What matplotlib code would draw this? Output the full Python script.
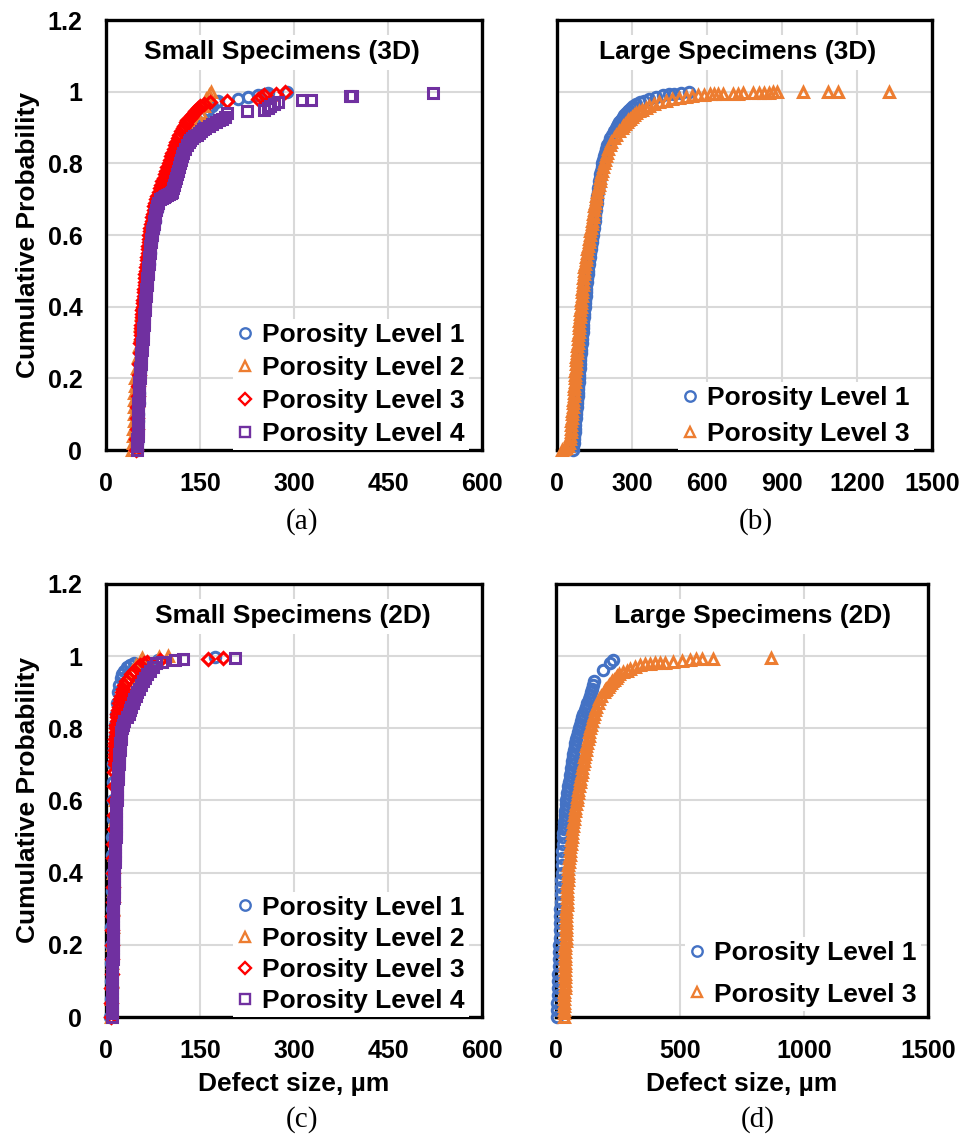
import matplotlib
matplotlib.use('Agg')
import matplotlib.pyplot as plt

# ---------------------------------------------------------------
# Values: defect size (um) vs cumulative probability
# ---------------------------------------------------------------

# (a) Small specimens (3D)
a_lvl1_x = [49, 49, 50, 50, 51, 51, 52, 52, 53, 54,
            55, 56, 57, 58, 59, 60, 62, 64, 66, 68,
            70, 72, 75, 78, 81, 85, 92, 99, 105, 112,
            120, 127, 134, 142, 150, 156, 163, 170, 176, 179,
            211, 227, 243, 254, 259, 289]
a_lvl1_y = [0.00, 0.02, 0.04, 0.06, 0.08, 0.10, 0.13, 0.16, 0.19, 0.22,
            0.25, 0.28, 0.31, 0.34, 0.37, 0.40, 0.43, 0.46, 0.49, 0.52,
            0.55, 0.58, 0.61, 0.64, 0.67, 0.70, 0.73, 0.76, 0.79, 0.82,
            0.85, 0.87, 0.89, 0.91, 0.93, 0.94, 0.95, 0.96, 0.97, 0.975,
            0.98, 0.985, 0.99, 0.993, 0.996, 1.0]

a_lvl2_x = [42, 42.5, 43, 43.5, 44, 44, 44.5, 45, 45.5, 46,
            47, 49, 51, 53, 54, 55, 56, 58, 60, 62,
            63, 65, 67, 69, 71, 73, 77, 82, 88, 95,
            103, 115, 128, 134, 142, 148, 152, 156, 160, 165, 168]
a_lvl2_y = [0.00, 0.02, 0.04, 0.06, 0.08, 0.10, 0.12, 0.14, 0.16, 0.18,
            0.20, 0.23, 0.26, 0.29, 0.32, 0.35, 0.38, 0.41, 0.44, 0.47,
            0.50, 0.53, 0.56, 0.59, 0.62, 0.65, 0.68, 0.71, 0.74, 0.77,
            0.80, 0.83, 0.86, 0.88, 0.90, 0.92, 0.94, 0.96, 0.98, 0.99, 1.0]

a_lvl3_x = [48, 48, 49, 49, 50, 51, 51, 52, 53, 54,
            55, 55.3, 55.6, 56, 56.3, 56.6, 57, 57.3, 57.6, 58,
            58.5, 59, 59.5, 60, 60.5, 61, 61.5, 62, 62.5, 63,
            64, 64.5, 65, 65.5, 66, 66.5, 67, 67.5, 68, 68.5,
            69, 70, 71, 72, 73, 74, 75, 76, 77, 78.5,
            80, 82, 84, 86, 88, 90, 92, 94, 96, 98,
            100, 102, 104, 106, 108, 110, 112, 114.5, 117, 120,
            123, 125, 127, 128.5, 130, 132.5, 135, 137.5, 140, 142.5,
            145, 147.5, 150, 156, 166, 193, 243, 248, 252, 272,
            286]
a_lvl3_y = [0.00, 0.03, 0.06, 0.09, 0.12, 0.15, 0.18, 0.21, 0.24, 0.27,
            0.30, 0.31, 0.32, 0.33, 0.34, 0.35, 0.36, 0.37, 0.38, 0.39,
            0.40, 0.41, 0.42, 0.43, 0.44, 0.45, 0.46, 0.47, 0.48, 0.49,
            0.50, 0.51, 0.52, 0.53, 0.54, 0.55, 0.56, 0.57, 0.58, 0.59,
            0.60, 0.61, 0.62, 0.63, 0.64, 0.65, 0.66, 0.67, 0.68, 0.69,
            0.70, 0.71, 0.72, 0.73, 0.74, 0.75, 0.76, 0.77, 0.78, 0.79,
            0.80, 0.81, 0.82, 0.83, 0.84, 0.85, 0.86, 0.87, 0.88, 0.89,
            0.90, 0.905, 0.91, 0.915, 0.92, 0.925, 0.93, 0.935, 0.94, 0.945,
            0.95, 0.955, 0.96, 0.965, 0.97, 0.975, 0.98, 0.985, 0.99, 0.995,
            1.0]

a_lvl4_x = [50, 50, 50, 50, 50.5, 50.5, 50.5, 50.5, 51, 51,
            51, 51, 51.5, 51.5, 52, 52, 52.5, 53, 53, 53.5,
            54, 54, 54.5, 55, 55.5, 56, 56, 56.5, 57, 57.5,
            58, 58.5, 59, 59, 59.5, 60, 60.5, 61, 61, 61.5,
            62, 62.5, 63, 63.5, 64, 64.5, 65, 65.5, 66, 66.5,
            67, 67.5, 68, 68.5, 69, 69.5, 70, 71, 71.5, 72,
            73, 74, 75, 76, 77, 78, 79, 80, 81.5, 83.5,
            86, 89, 92, 95, 98, 101, 104, 106, 107, 108,
            109.5, 111, 113, 115, 116.5, 118, 119.5, 121, 123.5, 126,
            129, 132, 134.5, 137, 141, 145, 148.5, 152, 155, 158,
            164, 170, 175, 180, 185, 190, 193, 225, 252, 258,
            262, 268, 275, 313, 328, 390, 392, 522]
a_lvl4_y = [0.00, 0.01, 0.02, 0.03, 0.04, 0.05, 0.06, 0.07, 0.08, 0.09,
            0.10, 0.11, 0.12, 0.13, 0.14, 0.15, 0.16, 0.17, 0.18, 0.19,
            0.20, 0.21, 0.22, 0.23, 0.24, 0.25, 0.26, 0.27, 0.28, 0.29,
            0.30, 0.31, 0.32, 0.33, 0.34, 0.35, 0.36, 0.37, 0.38, 0.39,
            0.40, 0.41, 0.42, 0.43, 0.44, 0.45, 0.46, 0.47, 0.48, 0.49,
            0.50, 0.51, 0.52, 0.53, 0.54, 0.55, 0.56, 0.57, 0.58, 0.59,
            0.60, 0.61, 0.62, 0.63, 0.64, 0.65, 0.66, 0.67, 0.68, 0.69,
            0.70, 0.703, 0.706, 0.709, 0.712, 0.715, 0.718, 0.72, 0.73, 0.74,
            0.75, 0.76, 0.77, 0.78, 0.79, 0.80, 0.81, 0.82, 0.83, 0.84,
            0.85, 0.86, 0.865, 0.87, 0.875, 0.88, 0.885, 0.89, 0.895, 0.90,
            0.905, 0.91, 0.915, 0.92, 0.925, 0.93, 0.94, 0.945, 0.95, 0.955,
            0.96, 0.965, 0.97, 0.977, 0.978, 0.988, 0.989, 0.996]

# (b) Large specimens (3D)
b_lvl1_x = [64, 66, 68, 69, 70, 71, 72, 73, 74, 75,
            76, 77.5, 79, 80, 81, 82.5, 84, 85, 86, 87,
            88, 89, 90, 91, 92, 93, 94, 95.5, 97, 98,
            99, 100, 101, 102.5, 104, 105, 106, 107.5, 109, 110,
            111, 112, 113, 114.5, 116, 117, 118, 119.5, 121, 122.5,
            124, 126, 128, 130, 132, 134, 136, 138, 140, 142,
            144, 146, 148, 149.5, 151, 152.5, 154, 155.5, 157, 158.5,
            160, 161.5, 163, 165, 167, 169.5, 172, 174, 176, 179,
            182, 185.5, 189, 193, 197, 202, 207, 213, 220, 228,
            236, 240, 245, 250, 255, 260, 265, 270, 276, 283,
            290, 298, 306, 318, 332, 348, 368, 395, 425, 450,
            470, 495, 530]
b_lvl1_y = [0.00, 0.01, 0.02, 0.03, 0.04, 0.05, 0.06, 0.07, 0.08, 0.09,
            0.10, 0.11, 0.12, 0.13, 0.14, 0.15, 0.16, 0.17, 0.18, 0.19,
            0.20, 0.21, 0.22, 0.23, 0.24, 0.25, 0.26, 0.27, 0.28, 0.29,
            0.30, 0.31, 0.32, 0.33, 0.34, 0.35, 0.36, 0.37, 0.38, 0.39,
            0.40, 0.41, 0.42, 0.43, 0.44, 0.45, 0.46, 0.47, 0.48, 0.49,
            0.50, 0.51, 0.52, 0.53, 0.54, 0.55, 0.56, 0.57, 0.58, 0.59,
            0.60, 0.61, 0.62, 0.63, 0.64, 0.65, 0.66, 0.67, 0.68, 0.69,
            0.70, 0.71, 0.72, 0.73, 0.74, 0.75, 0.76, 0.77, 0.78, 0.79,
            0.80, 0.81, 0.82, 0.83, 0.84, 0.85, 0.86, 0.87, 0.88, 0.89,
            0.90, 0.905, 0.91, 0.915, 0.92, 0.925, 0.93, 0.935, 0.94, 0.945,
            0.95, 0.955, 0.96, 0.965, 0.97, 0.975, 0.98, 0.985, 0.99, 0.993,
            0.995, 0.997, 1.0]

b_lvl3_x = [22, 30, 38, 45, 50, 51.5, 53, 54.5, 56, 57, 58, 59,
            60, 61.5, 63, 64, 65, 66.5, 68, 69, 70, 71,
            72, 73, 74, 75, 76, 77, 78, 79.5, 81, 82,
            83, 84, 85, 86.5, 88, 89, 90, 91.5, 93, 94,
            95, 96.5, 98, 99, 100, 101.5, 103, 104, 105, 106.5,
            108, 110, 112, 114.5, 117, 119.5, 122, 124.5, 127, 129.5,
            132, 134, 136, 138.5, 141, 143, 145, 147.5, 150, 152.5,
            155, 158, 161, 164, 167, 170.5, 174, 177.5, 181, 184.5,
            188, 192, 196, 201, 206, 212, 218, 228, 238, 249,
            260, 266, 272, 279, 286, 293, 300, 309, 318, 329,
            340, 355, 370, 390, 410, 435, 460, 490, 515, 540,
            565, 590, 612, 630, 645, 664, 705, 725, 745, 785,
            810, 830, 850, 865, 880, 985, 1085, 1125, 1330]
b_lvl3_y = [0.000, 0.003, 0.006, 0.01, 0.02, 0.03, 0.04, 0.05, 0.06, 0.07, 0.08, 0.09,
            0.10, 0.11, 0.12, 0.13, 0.14, 0.15, 0.16, 0.17, 0.18, 0.19,
            0.20, 0.21, 0.22, 0.23, 0.24, 0.25, 0.26, 0.27, 0.28, 0.29,
            0.30, 0.31, 0.32, 0.33, 0.34, 0.35, 0.36, 0.37, 0.38, 0.39,
            0.40, 0.41, 0.42, 0.43, 0.44, 0.45, 0.46, 0.47, 0.48, 0.49,
            0.50, 0.51, 0.52, 0.53, 0.54, 0.55, 0.56, 0.57, 0.58, 0.59,
            0.60, 0.61, 0.62, 0.63, 0.64, 0.65, 0.66, 0.67, 0.68, 0.69,
            0.70, 0.71, 0.72, 0.73, 0.74, 0.75, 0.76, 0.77, 0.78, 0.79,
            0.80, 0.81, 0.82, 0.83, 0.84, 0.85, 0.86, 0.87, 0.88, 0.89,
            0.90, 0.905, 0.91, 0.915, 0.92, 0.925, 0.93, 0.935, 0.94, 0.945,
            0.95, 0.955, 0.96, 0.965, 0.97, 0.975, 0.98, 0.983, 0.986, 0.989,
            0.991, 0.992, 0.993, 0.993, 0.994, 0.994, 0.995, 0.995, 0.996, 0.996,
            0.997, 0.997, 0.997, 0.998, 0.998, 0.999, 0.999, 0.999, 1.0]

# (c) Small specimens (2D)
c_lvl1_x = [7, 7.3, 7.6, 8, 8.3, 8.6, 9, 9.3, 9.6, 10,
            10.3, 10.6, 11, 11.5, 12, 13, 14, 15, 16, 17,
            19, 21, 24, 26, 29, 34, 38, 45, 83, 174]
c_lvl1_y = [0.00, 0.05, 0.10, 0.15, 0.20, 0.25, 0.30, 0.35, 0.40, 0.45,
            0.50, 0.55, 0.60, 0.65, 0.70, 0.74, 0.78, 0.81, 0.84, 0.87,
            0.90, 0.92, 0.94, 0.95, 0.96, 0.97, 0.975, 0.98, 0.99, 0.998]

c_lvl2_x = [8, 8.5, 9, 9.5, 10, 10.5, 11, 11.5, 12, 12.5,
            13, 14, 15, 16, 17, 18.5, 20, 23, 26, 30,
            36, 42, 48, 55, 57, 85, 99]
c_lvl2_y = [0.00, 0.05, 0.10, 0.15, 0.20, 0.25, 0.30, 0.35, 0.40, 0.45,
            0.50, 0.55, 0.60, 0.65, 0.70, 0.75, 0.80, 0.84, 0.88, 0.91,
            0.94, 0.96, 0.975, 0.985, 0.995, 0.997, 1.0]

c_lvl3_x = [8, 8.3, 8.6, 9, 9.3, 9.6, 10, 10.3, 10.6,
            11, 11.3, 11.6, 12, 12.3, 12.6, 13, 13.3, 13.6,
            13.8, 14, 14.2, 14.4, 14.6, 14.8, 15, 15.2, 15.4, 15.7,
            16, 16.5, 17, 17.5, 18, 19, 20, 21, 22, 23.5,
            25, 27, 29.5, 32, 36, 40, 45, 51, 55, 60,
            65, 86, 163, 186]
c_lvl3_y = [0.00, 0.04, 0.08, 0.12, 0.16, 0.20, 0.24, 0.28, 0.32,
            0.36, 0.40, 0.44, 0.48, 0.52, 0.56, 0.60, 0.64, 0.68,
            0.70, 0.71, 0.72, 0.73, 0.74, 0.75, 0.76, 0.77, 0.78, 0.79,
            0.80, 0.81, 0.82, 0.83, 0.84, 0.85, 0.86, 0.87, 0.88, 0.89,
            0.90, 0.91, 0.92, 0.93, 0.94, 0.95, 0.96, 0.97, 0.975, 0.98,
            0.985, 0.99, 0.993, 0.996]

c_lvl4_x = [9, 9.1, 9.2, 9.3, 9.5, 9.6, 9.7, 9.8, 10, 10,
            10, 10.1, 10.2, 10.3, 10.4, 10.4, 10.5, 10.5, 10.6, 10.7,
            10.8, 10.9, 11, 11.1, 11.2, 11.3, 11.4, 11.5, 11.6, 11.7,
            11.8, 11.9, 12, 12.2, 12.3, 12.5, 12.6, 12.7, 12.8, 12.9,
            13, 13.3, 13.5, 13.8, 14, 14.3, 14.5, 14.8, 15, 15.1,
            15.3, 15.5, 15.6, 15.8, 16, 16.2, 16.3, 16.5, 16.7, 16.8,
            17, 17.3, 17.5, 17.8, 18, 18.3, 18.5, 18.8, 19, 19.5,
            20, 20.5, 21, 21.5, 22, 22.5, 23, 23.5, 24, 24.5,
            25, 26.5, 28, 33, 36, 38, 40, 42.5, 45, 47.5,
            50, 53, 56, 59, 62, 66, 70, 75, 80, 89,
            110, 123, 206]
c_lvl4_y = [0.00, 0.01, 0.02, 0.03, 0.04, 0.05, 0.06, 0.07, 0.08, 0.09,
            0.10, 0.11, 0.12, 0.13, 0.14, 0.15, 0.16, 0.17, 0.18, 0.19,
            0.20, 0.21, 0.22, 0.23, 0.24, 0.25, 0.26, 0.27, 0.28, 0.29,
            0.30, 0.31, 0.32, 0.33, 0.34, 0.35, 0.36, 0.37, 0.38, 0.39,
            0.40, 0.41, 0.42, 0.43, 0.44, 0.45, 0.46, 0.47, 0.48, 0.49,
            0.50, 0.51, 0.52, 0.53, 0.54, 0.55, 0.56, 0.57, 0.58, 0.59,
            0.60, 0.61, 0.62, 0.63, 0.64, 0.65, 0.66, 0.67, 0.68, 0.69,
            0.70, 0.71, 0.72, 0.73, 0.74, 0.75, 0.76, 0.77, 0.78, 0.79,
            0.80, 0.81, 0.82, 0.83, 0.84, 0.85, 0.86, 0.87, 0.88, 0.89,
            0.90, 0.91, 0.92, 0.93, 0.94, 0.95, 0.96, 0.97, 0.98, 0.983,
            0.989, 0.991, 0.996]

# (d) Large specimens (2D)
d_lvl1_x = [4, 5, 5, 6, 7, 8, 9, 10, 11, 12,
            13, 14, 15, 16, 17, 18, 19, 20, 21, 22,
            23, 24, 25, 26, 27, 29, 30, 31, 32, 34,
            35, 36, 38, 39, 41, 42, 44, 46, 48, 50,
            52, 55, 57, 59, 62, 64, 66, 68, 70, 73,
            76, 78, 81, 84, 88, 91, 95, 100, 104, 109,
            115, 120, 126, 132, 137, 140, 145, 150, 155,
            189, 218, 231]
d_lvl1_y = [0.00, 0.02, 0.04, 0.06, 0.08, 0.10, 0.12, 0.14, 0.16, 0.18,
            0.20, 0.22, 0.24, 0.26, 0.28, 0.30, 0.32, 0.34, 0.36, 0.38,
            0.40, 0.42, 0.44, 0.46, 0.48, 0.50, 0.51, 0.52, 0.53, 0.54,
            0.55, 0.56, 0.57, 0.58, 0.59, 0.60, 0.61, 0.62, 0.63, 0.64,
            0.65, 0.66, 0.67, 0.68, 0.69, 0.70, 0.71, 0.72, 0.73, 0.74,
            0.75, 0.76, 0.77, 0.78, 0.79, 0.80, 0.81, 0.82, 0.83, 0.84,
            0.85, 0.86, 0.87, 0.88, 0.89, 0.90, 0.91, 0.92, 0.93,
            0.962, 0.982, 0.99]

d_lvl3_x = [32, 32.2, 32.5, 32.8, 33, 33.3, 33.6, 34, 34.3, 34.6,
            35, 35.2, 35.5, 35.8, 36, 36.5, 37, 37.2, 37.5, 37.8,
            38, 38.3, 38.5, 38.8, 39, 39.5, 40, 40.5, 41, 41.5,
            42, 42.5, 43, 43.5, 44, 44.5, 45, 45.8, 46.5, 47.3,
            48, 49, 50, 51.5, 53, 54.5, 56, 57.5, 59, 61,
            63, 64.5, 66, 68, 70, 72, 74, 76, 78, 80.5,
            83, 85.5, 88, 90.5, 93, 95.5, 98, 100.5, 103, 105.5,
            108, 111, 114, 116.5, 119, 122, 125, 128, 131, 134,
            137, 141, 145, 148.5, 152, 157, 162, 168, 175, 183,
            192, 197, 203, 209, 215, 221, 227, 233, 240, 247,
            255, 270, 285, 300, 318, 340, 360, 380, 399, 420,
            439, 472, 508, 540, 565, 587, 633, 865]
d_lvl3_y = [0.00, 0.01, 0.02, 0.03, 0.04, 0.05, 0.06, 0.07, 0.08, 0.09,
            0.10, 0.11, 0.12, 0.13, 0.14, 0.15, 0.16, 0.17, 0.18, 0.19,
            0.20, 0.21, 0.22, 0.23, 0.24, 0.25, 0.26, 0.27, 0.28, 0.29,
            0.30, 0.31, 0.32, 0.33, 0.34, 0.35, 0.36, 0.37, 0.38, 0.39,
            0.40, 0.41, 0.42, 0.43, 0.44, 0.45, 0.46, 0.47, 0.48, 0.49,
            0.50, 0.51, 0.52, 0.53, 0.54, 0.55, 0.56, 0.57, 0.58, 0.59,
            0.60, 0.61, 0.62, 0.63, 0.64, 0.65, 0.66, 0.67, 0.68, 0.69,
            0.70, 0.71, 0.72, 0.73, 0.74, 0.75, 0.76, 0.77, 0.78, 0.79,
            0.80, 0.81, 0.82, 0.83, 0.84, 0.85, 0.86, 0.87, 0.88, 0.89,
            0.90, 0.905, 0.91, 0.915, 0.92, 0.925, 0.93, 0.935, 0.94, 0.945,
            0.95, 0.955, 0.96, 0.965, 0.97, 0.975, 0.977, 0.979, 0.98, 0.981,
            0.982, 0.985, 0.987, 0.99, 0.991, 0.992, 0.993, 0.996]

# axis ticks and labels
y_ticks = [0, 0.2, 0.4, 0.6, 0.8, 1.0, 1.2]
y_tick_labels = ['0', '0.2', '0.4', '0.6', '0.8', '1', '1.2']
small_x_ticks = [0, 150, 300, 450, 600]
large3d_x_ticks = [0, 300, 600, 900, 1200, 1500]
large2d_x_ticks = [0, 500, 1000, 1500]

# Excel-like styles, in the order the series appear in each legend
STYLES = [
    dict(marker='o', color='#4472C4', ms=7.5),
    dict(marker='^', color='#ED7D31', ms=7.5),
    dict(marker='D', color='#FF0000', ms=6.2),
    dict(marker='s', color='#7030A0', ms=7.0),
]

plt.rcParams['font.family'] = ['Liberation Sans', 'DejaVu Sans']
plt.rcParams['font.weight'] = 'bold'


def draw_panel(ax, series, labels, x_ticks, title, title_x, legend_kw,
               show_ylabel, show_xlabel):
    """Draw one cumulative-probability panel."""
    for i, (x, y) in enumerate(series):
        st = STYLES[i]
        ax.plot(x, y, linestyle='none', marker=st['marker'], ms=st['ms'],
                mfc='none', mec=st['color'], mew=2.2, label=labels[i],
                clip_on=False, zorder=3 + i)

    ax.set_xlim(x_ticks[0], x_ticks[-1])
    ax.set_ylim(0, 1.2)
    ax.set_xticks(x_ticks)
    ax.set_xticklabels([str(t) for t in x_ticks])
    ax.set_yticks(y_ticks)
    if show_ylabel:
        ax.set_yticklabels(y_tick_labels)
        ax.set_ylabel('Cumulative Probability', fontsize=19, fontweight='bold')
        ax.yaxis.set_label_coords(-0.176, 0.5)
    else:
        ax.set_yticklabels([])
    if show_xlabel:
        ax.set_xlabel('Defect size, µm', fontsize=19, fontweight='bold')
        ax.xaxis.set_label_coords(0.5, -0.128)

    ax.tick_params(length=0, labelsize=18, pad=16)
    ax.tick_params(axis='y', pad=17)
    ax.grid(True, color='#D9D9D9', lw=1.5)
    ax.set_axisbelow(True)
    for sp in ax.spines.values():
        sp.set_color('black')
        sp.set_linewidth(2.4)

    ax.text(title_x, 1.11, title, ha='center', va='center', fontsize=19,
            fontweight='bold', zorder=10,
            bbox=dict(facecolor='white', edgecolor='none', pad=4))

    leg = ax.legend(loc='lower right', frameon=True, fancybox=False,
                    facecolor='white', edgecolor='none', framealpha=1,
                    fontsize=19, handlelength=0.6, handletextpad=0.35,
                    borderpad=0.15, borderaxespad=0, **legend_kw)
    for h in leg.legend_handles:
        h.set_markeredgewidth(1.7)
    leg.set_zorder(12)


fig = plt.figure(figsize=(9.66, 11.39), dpi=100)

ax_a = fig.add_axes([0.1097, 0.6049, 0.3892, 0.3775])
ax_b = fig.add_axes([0.5766, 0.6049, 0.3882, 0.3775])
ax_c = fig.add_axes([0.1097, 0.1071, 0.3892, 0.3802])
ax_d = fig.add_axes([0.5756, 0.1071, 0.3851, 0.3802])

four_labels = ['Porosity Level 1', 'Porosity Level 2',
               'Porosity Level 3', 'Porosity Level 4']
two_labels = ['Porosity Level 1', 'Porosity Level 3']

draw_panel(ax_a,
           [(a_lvl1_x, a_lvl1_y), (a_lvl2_x, a_lvl2_y),
            (a_lvl3_x, a_lvl3_y), (a_lvl4_x, a_lvl4_y)],
           four_labels, small_x_ticks, 'Small Specimens (3D)', 281,
           dict(bbox_to_anchor=(0.965, 0.0), labelspacing=0.34),
           True, False)

draw_panel(ax_b,
           [(b_lvl1_x, b_lvl1_y), (b_lvl3_x, b_lvl3_y)],
           two_labels, large3d_x_ticks, 'Large Specimens (3D)', 722,
           dict(bbox_to_anchor=(0.952, 0.0), labelspacing=0.45),
           False, False)

draw_panel(ax_c,
           [(c_lvl1_x, c_lvl1_y), (c_lvl2_x, c_lvl2_y),
            (c_lvl3_x, c_lvl3_y), (c_lvl4_x, c_lvl4_y)],
           four_labels, small_x_ticks, 'Small Specimens (2D)', 298,
           dict(bbox_to_anchor=(0.965, 0.0), labelspacing=0.27),
           True, True)

draw_panel(ax_d,
           [(d_lvl1_x, d_lvl1_y), (d_lvl3_x, d_lvl3_y)],
           two_labels, large2d_x_ticks, 'Large Specimens (2D)', 792,
           dict(bbox_to_anchor=(0.981, 0.015), labelspacing=0.66),
           False, True)

# sub-figure captions
for label, x, y in [('(a)', 302, 522), ('(b)', 756, 522),
                    ('(c)', 302, 1120), ('(d)', 758, 1120)]:
    fig.text(x / 966, 1 - y / 1139, label, ha='center', va='center',
             family='Liberation Serif', fontweight='normal', fontsize=21)

fig.savefig('out.png', dpi=100)
